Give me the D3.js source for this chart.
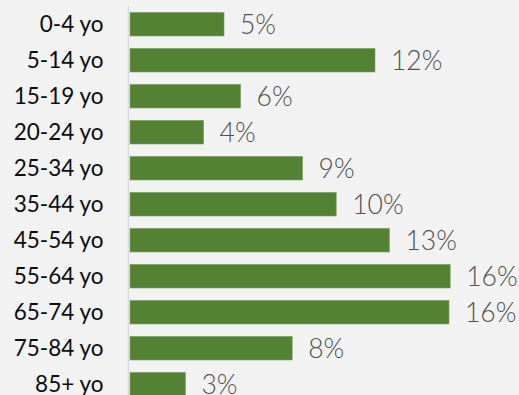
<!DOCTYPE html>
<html>
<head>
<meta charset="utf-8">
<script src="https://cdn.jsdelivr.net/npm/d3@7"></script>
<style>
  html, body { margin: 0; padding: 0; background: #f2f2f2; }
  svg { display: block; }
</style>
</head>
<body>
<svg id="chart" width="519" height="395"></svg>
<script>
// Share of population by age group
const ageGroups = ["0-4 yo", "5-14 yo", "15-19 yo", "20-24 yo", "25-34 yo", "35-44 yo",
                   "45-54 yo", "55-64 yo", "65-74 yo", "75-84 yo", "85+ yo"];
const shares = [0.047, 0.1225, 0.0553, 0.0368, 0.0863, 0.1031, 0.1297, 0.1601, 0.1595, 0.0811, 0.0277];

const width = 519, height = 395;
const svg = d3.select("#chart");

svg.append("rect").attr("width", width).attr("height", height).attr("fill", "#f2f2f2");

const x = d3.scaleLinear().domain([0, 0.2]).range([130, 530]);
const y = d3.scaleBand().domain(ageGroups).range([6.2, 402.2]).paddingInner(0.345).paddingOuter(0.1725);

const data = ageGroups.map((g, i) => ({ group: g, value: shares[i] }));
const fmt = d3.format(".0%");

// bars
svg.append("g").selectAll("rect").data(data).join("rect")
  .attr("x", x(0))
  .attr("y", d => y(d.group))
  .attr("width", d => x(d.value) - x(0))
  .attr("height", y.bandwidth())
  .attr("fill", "#548235")
  .attr("stroke", "#7d9f62")
  .attr("stroke-width", 0.6);

// category axis
const axis = svg.append("g").attr("transform", `translate(${x(0) - 1.5},0)`)
  .call(d3.axisLeft(y).tickSize(0).tickPadding(25));
axis.select(".domain").attr("stroke", "#d9d9d9").attr("stroke-width", 1.2)
  .attr("d", `M0,6V${height}`);
axis.selectAll("text")
  .attr("font-family", "Lato, sans-serif")
  .attr("font-size", 22.5)
  .attr("fill", "#0d0d0d")
  .attr("dy", "0.36em");

// value labels
svg.append("g").selectAll("text").data(data).join("text")
  .attr("x", d => x(d.value) + 16)
  .attr("y", d => y(d.group) + y.bandwidth() / 2)
  .attr("dy", "0.36em")
  .attr("font-family", "Lato, sans-serif")
  .attr("font-weight", 300)
  .attr("font-size", 26.5)
  .attr("fill", "#505050")
  .text(d => fmt(d.value));
</script>
</body>
</html>
